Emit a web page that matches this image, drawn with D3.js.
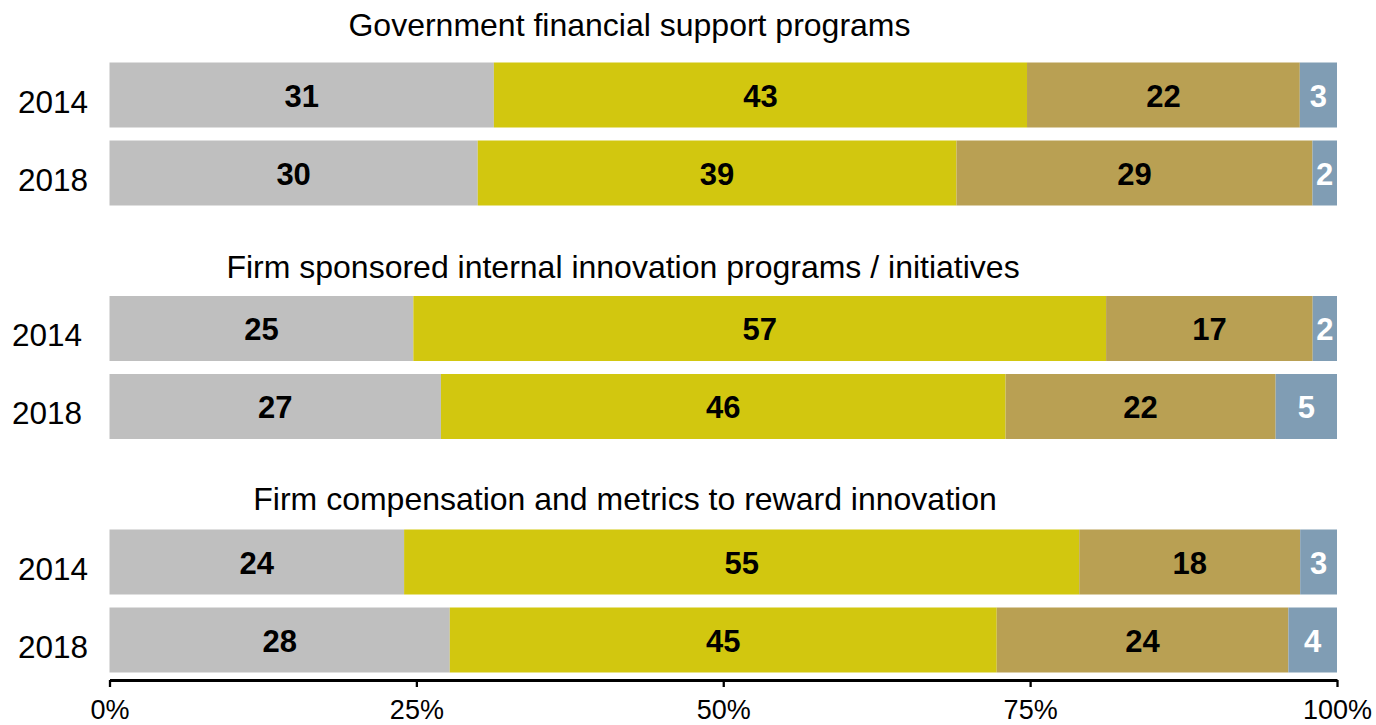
<!DOCTYPE html>
<html>
<head>
<meta charset="utf-8">
<script src="https://cdn.jsdelivr.net/npm/d3@7"></script>
<style>
  html, body { margin: 0; padding: 0; background: #fff; }
  svg { display: block; font-family: "Liberation Sans", Arial, Helvetica, sans-serif; }
</style>
</head>
<body>
<svg id="chart" width="1376" height="725"></svg>
<script>
// Survey shares per response category (each row is scaled to 100%)
const panels = [
  "Government financial support programs",
  "Firm sponsored internal innovation programs / initiatives",
  "Firm compensation and metrics to reward innovation"
];
const years = ["2014", "2018"];
const segmentKeys = ["a", "b", "c", "d"];

const govValues      = [[31, 43, 22, 3], [30, 39, 29, 2]];
const internalValues = [[25, 57, 17, 2], [27, 46, 22, 5]];
const rewardValues   = [[24, 55, 18, 3], [28, 45, 24, 4]];

const panelValues = [govValues, internalValues, rewardValues];

const tickValues = [0, 0.25, 0.5, 0.75, 1];
const tickLabels = ["0%", "25%", "50%", "75%", "100%"];

const segmentColors = ["#bfbfbf", "#d2c70f", "#b9a053", "#809db4"];
const labelColors = ["#000", "#000", "#000", "#fff"];

// layout
const x = d3.scaleLinear().domain([0, 1]).range([109.5, 1337]);
const panelY = d3.scaleLinear().domain([0, 1]).range([62.5, 296]);
const rowY = d3.scaleBand().domain(years).range([0, 143]).paddingInner(13 / 78);
const titleOffset = [-27, -18.5, -19.5];
const titleX = [629.5, 623, 625];
const yearRight = [88, 82, 88];
const axisY = 680;

const svg = d3.select("#chart");

panelValues.forEach((rows, p) => {
  const g = svg.append("g").attr("transform", `translate(0,${panelY(p)})`);

  g.append("text")
    .attr("x", titleX[p])
    .attr("y", titleOffset[p])
    .attr("text-anchor", "middle")
    .attr("font-size", 32)
    .attr("fill", "#000")
    .text(panels[p]);

  rows.forEach((vals, r) => {
    const total = d3.sum(vals);
    const row = {};
    segmentKeys.forEach((k, i) => row[k] = vals[i] / total);
    const stacked = d3.stack().keys(segmentKeys)([row]);
    const y0 = rowY(years[r]);
    const bh = rowY.bandwidth();
    const cy = y0 + bh / 2;

    g.append("text")
      .attr("x", yearRight[p])
      .attr("y", cy + 17.5)
      .attr("text-anchor", "end")
      .attr("font-size", 31.5)
      .attr("fill", "#000")
      .text(years[r]);

    stacked.forEach((s, i) => {
      const [a, b] = s[0];
      g.append("rect")
        .attr("x", x(a))
        .attr("y", y0)
        .attr("width", x(b) - x(a))
        .attr("height", bh)
        .attr("fill", segmentColors[i]);
    });

    stacked.forEach((s, i) => {
      const [a, b] = s[0];
      g.append("text")
        .attr("x", (x(a) + x(b)) / 2)
        .attr("y", cy + 11.5)
        .attr("text-anchor", "middle")
        .attr("font-size", 31)
        .attr("font-weight", "bold")
        .attr("fill", labelColors[i])
        .text(vals[i]);
    });
  });
});

// bottom percentage axis
const axis = d3.axisBottom(x)
  .tickValues(tickValues)
  .tickFormat((d, i) => tickLabels[i])
  .tickSizeInner(7)
  .tickSizeOuter(0)
  .tickPadding(14);

const ax = svg.append("g")
  .attr("transform", `translate(0,${axisY})`)
  .call(axis);

ax.select(".domain").attr("stroke", "#000").attr("stroke-width", 3);
ax.selectAll(".tick line").attr("stroke", "#000").attr("stroke-width", 2.3);
ax.selectAll(".tick text")
  .attr("font-size", 27)
  .attr("font-family", "'Liberation Sans', Arial, sans-serif")
  .attr("fill", "#000")
  .attr("dy", null)
  .attr("y", 39);
</script>
</body>
</html>
